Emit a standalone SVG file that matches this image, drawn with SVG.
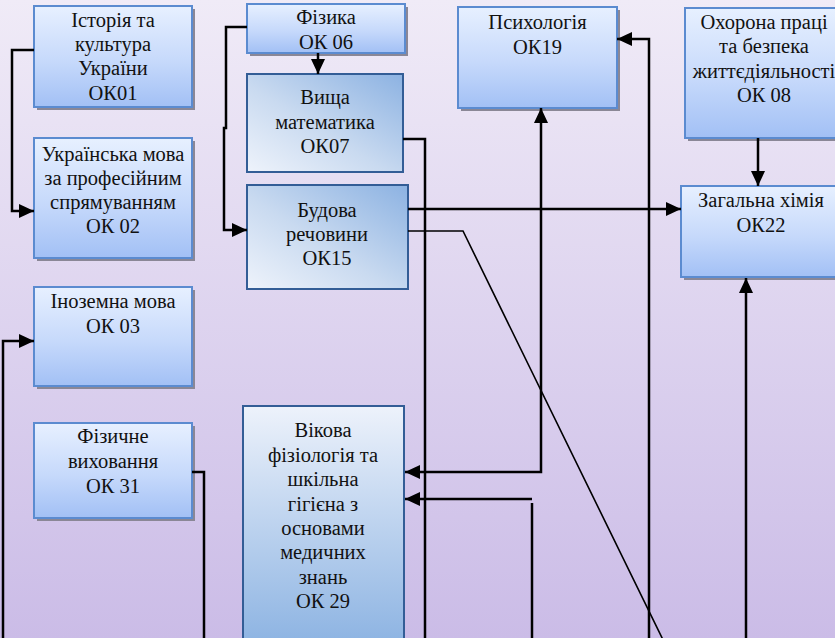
<svg xmlns="http://www.w3.org/2000/svg" width="835" height="638" viewBox="0 0 835 638">
<defs>
<linearGradient id="bg" x1="0" y1="0" x2="0" y2="1">
<stop offset="0" stop-color="#f0ebf7"/>
<stop offset="1" stop-color="#cbbce7"/>
</linearGradient>
<linearGradient id="gA" x1="0" y1="0" x2="0" y2="1">
<stop offset="0" stop-color="#e7f0ff"/>
<stop offset="0.55" stop-color="#c6d9fb"/>
<stop offset="1" stop-color="#a2c0f5"/>
</linearGradient>
<linearGradient id="gB" x1="0" y1="1" x2="1" y2="0">
<stop offset="0" stop-color="#eef3fb"/>
<stop offset="0.45" stop-color="#c9daf0"/>
<stop offset="1" stop-color="#8cb2e2"/>
</linearGradient>
<linearGradient id="gC" x1="0" y1="0" x2="0" y2="1">
<stop offset="0" stop-color="#edf2fb"/>
<stop offset="1" stop-color="#8cb3e2"/>
</linearGradient>
<marker id="ah" markerUnits="userSpaceOnUse" markerWidth="15" markerHeight="14" refX="15" refY="7" orient="auto-start-reverse">
<path d="M0,0 L15,7 L0,14 z" fill="#000"/>
</marker>
</defs>
<style>
.bxA{fill:url(#gA);stroke:#5b8bd0;stroke-width:2}
.bxB{fill:url(#gB);stroke:#335d96;stroke-width:2}
.bxC{fill:url(#gC);stroke:#335d96;stroke-width:2}
.sh{fill:#8a8796}
.c{fill:none;stroke:#000;stroke-width:2.5}
.d{fill:none;stroke:#000;stroke-width:1.6}
</style>
<rect x="0" y="0" width="835" height="638" fill="url(#bg)"/>

<g font-family="Liberation Serif, 'Times New Roman', serif" font-size="20.5" text-anchor="middle" fill="#111">
<g id="n-ok01">
<rect class="sh" x="37" y="9" width="158" height="101"/>
<rect class="bxA" x="34" y="6" width="158" height="101"/>
<text x="113" y="27">Історія та</text>
<text x="113" y="51">культура</text>
<text x="113" y="75">України</text>
<text x="113" y="100">ОК01</text>
</g>
<g id="n-ok02">
<rect class="sh" x="37" y="141" width="158" height="120"/>
<rect class="bxA" x="34" y="138" width="158" height="120"/>
<text x="113" y="161">Українська мова</text>
<text x="113" y="185">за професійним</text>
<text x="113" y="209">спрямуванням</text>
<text x="113" y="233">ОК 02</text>
</g>
<g id="n-ok03">
<rect class="sh" x="37" y="290" width="158" height="99"/>
<rect class="bxA" x="34" y="287" width="158" height="99"/>
<text x="113" y="308">Іноземна мова</text>
<text x="113" y="333">ОК 03</text>
</g>
<g id="n-ok31">
<rect class="sh" x="37" y="426" width="158" height="95"/>
<rect class="bxA" x="34" y="423" width="158" height="95"/>
<text x="113" y="443">Фізичне</text>
<text x="113" y="468">виховання</text>
<text x="113" y="493">ОК 31</text>
</g>
<g id="n-ok06">
<rect class="sh" x="250" y="7" width="158" height="49"/>
<rect class="bxA" x="247" y="4" width="158" height="49"/>
<text x="326" y="24">Фізика</text>
<text x="326" y="49">ОК 06</text>
</g>
<g id="n-ok07">
<rect class="bxB" x="247" y="74" width="156" height="98"/>
<text x="325" y="104">Вища</text>
<text x="325" y="129">математика</text>
<text x="325" y="153">ОК07</text>
</g>
<g id="n-ok15">
<rect class="bxB" x="247" y="185" width="161" height="104"/>
<text x="327" y="217">Будова</text>
<text x="327" y="241">речовини</text>
<text x="327" y="265">ОК15</text>
</g>
<g id="n-ok19">
<rect class="sh" x="461" y="10" width="159" height="101"/>
<rect class="bxA" x="458" y="7" width="159" height="101"/>
<text x="537.5" y="29">Психологія</text>
<text x="537.5" y="54">ОК19</text>
</g>
<g id="n-ok08">
<rect class="sh" x="688" y="11" width="160" height="130"/>
<rect class="bxA" x="685" y="8" width="160" height="130"/>
<text x="764" y="29">Охорона праці</text>
<text x="764" y="53">та безпека</text>
<text x="764" y="78">життєдіяльності</text>
<text x="764" y="102">ОК 08</text>
</g>
<g id="n-ok22">
<rect class="sh" x="684" y="189" width="160" height="91"/>
<rect class="bxA" x="681" y="186" width="160" height="91"/>
<text x="761" y="207">Загальна хімія</text>
<text x="761" y="232">ОК22</text>
</g>
<g id="n-ok29">
<rect class="bxC" x="243" y="406" width="161" height="240"/>
<text x="323" y="437">Вікова</text>
<text x="323" y="462">фізіологія та</text>
<text x="323" y="486">шкільна</text>
<text x="323" y="511">гігієна з</text>
<text x="323" y="535">основами</text>
<text x="323" y="559">медичних</text>
<text x="323" y="584">знань</text>
<text x="323" y="608">ОК 29</text>
</g>
</g>

<g id="connectors">
<path class="c" d="M34,50 H12 V211 H34" marker-end="url(#ah)"/>
<path class="c" d="M247,27 H226 V128 H224 V230 H247" marker-end="url(#ah)"/>
<path class="c" d="M318,53 V74" marker-end="url(#ah)"/>
<path class="c" d="M403,139 H425 V640"/>
<path class="c" d="M408,209 H681" marker-end="url(#ah)"/>
<path class="d" d="M408,231 H463 L667,648"/>
<path class="c" d="M405,472 H541 V108" marker-start="url(#ah)" marker-end="url(#ah)"/>
<path class="c" d="M532,499 H405" marker-end="url(#ah)"/>
<path class="c" d="M532,503 V640"/>
<path class="c" d="M649,640 V39 H617" marker-end="url(#ah)"/>
<path class="c" d="M746,640 V278" marker-end="url(#ah)"/>
<path class="c" d="M758,138 V186" marker-end="url(#ah)"/>
<path class="c" d="M3,640 V341 H34" marker-end="url(#ah)"/>
<path class="c" d="M192,472 H204 V640"/>
</g>
</svg>
